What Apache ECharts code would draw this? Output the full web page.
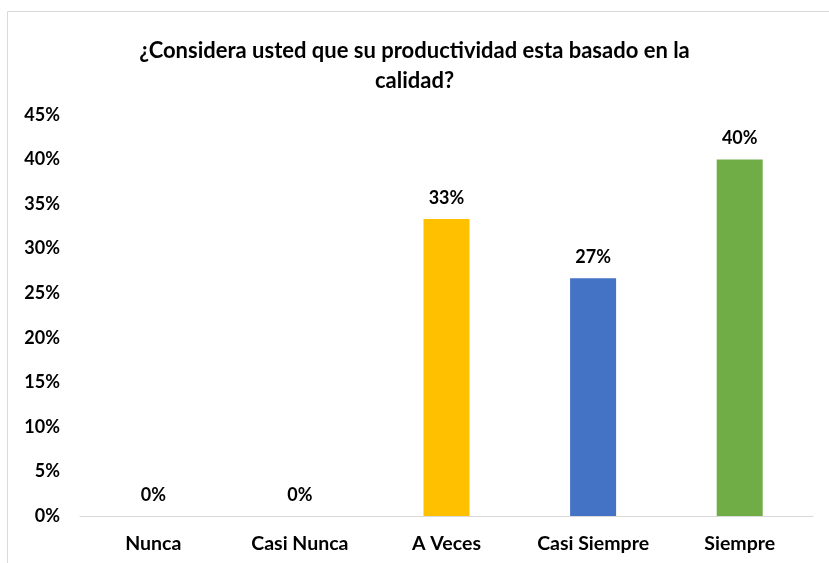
<!DOCTYPE html>
<html><head><meta charset="utf-8">
<script src="https://cdn.jsdelivr.net/npm/echarts@6/dist/echarts.min.js"></script>
<style>html,body{margin:0;padding:0;background:#fff}#c{width:829px;height:563px}</style>
</head><body><div id="c"></div>
<script>
const categories = ['Nunca', 'Casi Nunca', 'A Veces', 'Casi Siempre', 'Siempre'];
const values = [0, 0, 33.33, 26.67, 40];
const barColors = ['#FFC000', '#FFC000', '#FFC000', '#4472C4', '#70AD47'];
const titleText = '¿Considera usted que su productividad esta basado en la\ncalidad?';
const yTicks = { min: 0, max: 45, interval: 5 };
const font = 'Lato, "Open Sans", sans-serif';

const chart = echarts.init(document.getElementById('c'));
chart.setOption({
  animation: false,
  textStyle: { fontFamily: font },
  title: {
    text: titleText, left: 'center', top: 31,
    textStyle: { fontFamily: font, fontSize: 22, fontWeight: 'bold', color: '#000', lineHeight: 30 }
  },
  graphic: [{ type: 'rect', shape: { x: 7.5, y: 11.5, width: 840, height: 560 }, style: { fill: null, stroke: '#d9d9d9', lineWidth: 1 }, silent: true }],
  grid: { left: 80, right: 16, top: 115, bottom: 47 },
  xAxis: {
    type: 'category', data: categories,
    axisLine: { lineStyle: { color: '#d9d9d9', width: 1 } },
    axisTick: { show: false },
    axisLabel: { fontFamily: font, fontSize: 19.5, fontWeight: 'bold', color: '#000', margin: 18 }
  },
  yAxis: {
    type: 'value', min: yTicks.min, max: yTicks.max, interval: yTicks.interval,
    splitLine: { show: false },
    axisLine: { show: false }, axisTick: { show: false },
    axisLabel: { fontFamily: font, fontSize: 18, fontWeight: 'bold', color: '#000', margin: 20, formatter: v => v + '%' }
  },
  series: [{
    type: 'bar', barWidth: 46,
    data: values.map((v, i) => ({ value: v, itemStyle: { color: barColors[i] } })),
    label: {
      show: true, position: 'top', distance: 12,
      fontFamily: font, fontSize: 18, fontWeight: 'bold', color: '#000',
      formatter: p => Math.round(p.value) + '%'
    }
  }]
});
</script></body></html>
